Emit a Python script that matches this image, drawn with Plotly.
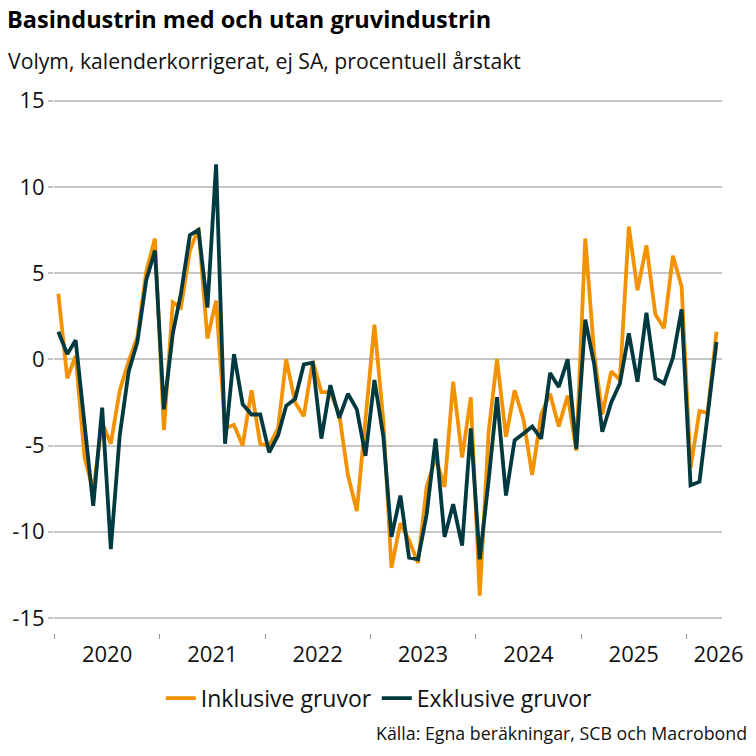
import pandas as pd
import plotly.graph_objects as go

# ---------------- data ----------------
start_month = "2020-01"
n_months = 76  # Jan 2020 .. Apr 2026

inklusive = [3.8, -1.1, 0.2, -5.7, -7.6, -3.7, -4.9, -1.8, -0.1, 1.3, 5.1, 7.0,
             -4.1, 3.3, 3.0, 6.3, 7.6, 1.2, 3.4, -4.0, -3.8, -5.0, -1.8, -4.9,
             -5.0, -4.0, 0.0, -2.5, -3.3, -0.1, -1.9, -1.9, -3.2, -6.7, -8.8, -3.4,
             2.0, -3.6, -12.1, -9.5, -10.5, -11.8, -7.4, -5.7, -7.4, -1.3, -5.7, -2.2,
             -13.7, -4.2, 0.0, -4.5, -1.8, -3.5, -6.7, -3.2, -2.0, -3.9, -2.1, -5.3,
             7.0, 0.3, -3.2, -0.7, -1.2, 7.7, 4.0, 6.6, 2.6, 1.8, 6.0, 4.2,
             -6.3, -3.0, -3.1, 1.6]

exklusive = [1.6, 0.3, 1.1, -4.0, -8.5, -2.8, -11.0, -4.4, -0.7, 1.0, 4.6, 6.3,
             -2.9, 1.5, 3.8, 7.2, 7.5, 3.0, 11.3, -4.9, 0.3, -2.6, -3.2, -3.2,
             -5.4, -4.4, -2.7, -2.3, -0.3, -0.2, -4.6, -1.5, -3.4, -2.0, -2.9, -5.6,
             -1.2, -4.5, -10.3, -7.9, -11.5, -11.6, -9.0, -4.6, -10.3, -8.4, -10.8, -4.0,
             -11.6, -7.0, -2.2, -7.9, -4.7, -4.3, -3.9, -4.6, -0.8, -1.6, 0.0, -5.2,
             2.3, -0.3, -4.2, -2.5, -1.4, 1.5, -1.3, 2.7, -1.1, -1.4, 0.1, 2.9,
             -7.3, -7.1, -3.1, 1.0]

year_labels = ["2020", "2021", "2022", "2023", "2024", "2025", "2026"]
year_label_pos = ["2020-07-02", "2021-07-02", "2022-07-02", "2023-07-02",
                  "2024-07-02", "2025-07-02", "2026-04-22"]
year_starts = ["2020-01-01", "2021-01-01", "2022-01-01", "2023-01-01",
               "2024-01-01", "2025-01-01", "2026-01-01"]

series_names = ["Inklusive gruvor", "Exklusive gruvor"]
series_colors = ["#F39200", "#003A40"]

dates = pd.date_range(start_month, periods=n_months, freq="MS") + pd.Timedelta(days=14)

FONT = "Open Sans"
GRID = "#C6C6C6"

fig = go.Figure()
for name, vals, col in zip(series_names, [inklusive, exklusive], series_colors):
    fig.add_trace(go.Scatter(x=dates, y=vals, mode="lines", name=name,
                             line=dict(color=col, width=3.8)))

fig.update_layout(
    width=756, height=756,
    margin=dict(l=53, r=29, t=98, b=123),
    paper_bgcolor="white", plot_bgcolor="white",
    font=dict(family=FONT, color="#111111"),
    title=dict(text="<b>Basindustrin med och utan gruvindustrin</b>",
               font=dict(family=FONT, size=23.5, color="#000000"),
               xref="container", yref="container",
               x=7 / 756, xanchor="left", y=1 - 20 / 756, yanchor="middle"),
    showlegend=True,
    legend=dict(orientation="h", xanchor="center", yanchor="middle",
                x=0.487, y=-0.122, font=dict(family=FONT, size=23, color="#111111"),
                itemwidth=30, bgcolor="rgba(0,0,0,0)"),
    annotations=[
        dict(text="Volym, kalenderkorrigerat, ej SA, procentuell årstakt",
             xref="paper", yref="paper", x=-0.0712, y=1.071,
             xanchor="left", yanchor="middle", showarrow=False,
             font=dict(family=FONT, size=21.2, color="#111111")),
        dict(text="Källa: Egna beräkningar, SCB och Macrobond",
             xref="paper", yref="paper", x=1.040, y=-0.187,
             xanchor="right", yanchor="middle", showarrow=False,
             font=dict(family=FONT, size=17.8, color="#111111")),
    ],
)

fig.update_xaxes(
    type="date",
    range=["2019-12-31", "2026-05-04"],
    showgrid=False, showline=False, zeroline=False,
    tickmode="array", tickvals=year_label_pos, ticktext=year_labels,
    ticks="outside", ticklen=2, tickcolor="rgba(0,0,0,0)",
    tickfont=dict(family=FONT, size=22, color="#111111"),
    minor=dict(tickmode="array", tickvals=year_starts, ticks="outside",
               ticklen=5, tickwidth=1, tickcolor="#999999", showgrid=False),
)

fig.update_yaxes(
    range=[-15.87, 15.15],
    tickmode="array", tickvals=[-15, -10, -5, 0, 5, 10, 15],
    ticktext=["-15", "-10", "-5", "0", "5", "10", "15"],
    showgrid=True, gridcolor=GRID, gridwidth=1.5,
    zeroline=False, showline=False,
    ticks="outside", ticklen=5, tickwidth=1.5, tickcolor=GRID,
    ticklabelstandoff=-1,
    tickfont=dict(family=FONT, size=22, color="#111111"),
)

fig.write_html("out.html")
